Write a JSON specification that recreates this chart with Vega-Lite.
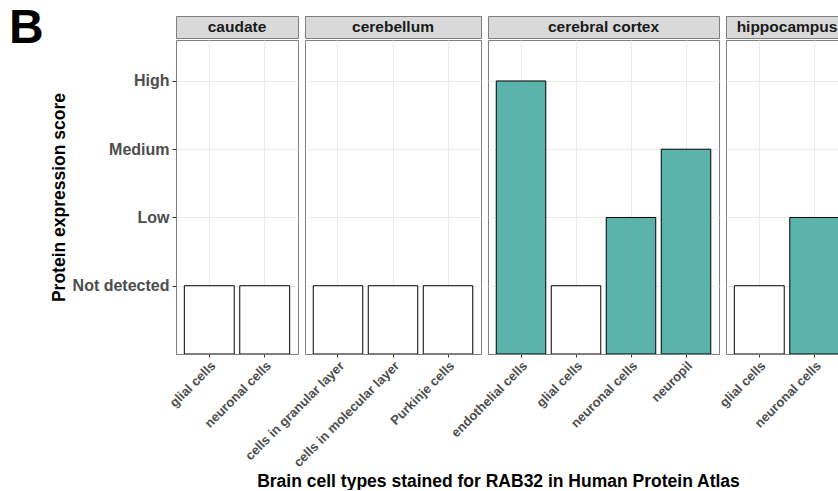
{
  "$schema": "https://vega.github.io/schema/vega-lite/v6.json",
  "background": "white",
  "padding": {"left": 8, "top": 4, "right": 0, "bottom": 0},
  "title": {"text": "B", "orient": "left", "anchor": "end", "angle": 0, "fontSize": 48, "fontWeight": "bold", "font": "Liberation Sans", "color": "black", "baseline": "top", "align": "left", "offset": 6, "dy": -11},
  "datasets": {
    "hpa": [
      {"region": "caudate", "cell": "glial cells", "score": 1, "detected": "no"},
      {"region": "caudate", "cell": "neuronal cells", "score": 1, "detected": "no"},
      {"region": "cerebellum", "cell": "cells in granular layer", "score": 1, "detected": "no"},
      {"region": "cerebellum", "cell": "cells in molecular layer", "score": 1, "detected": "no"},
      {"region": "cerebellum", "cell": "Purkinje cells", "score": 1, "detected": "no"},
      {"region": "cerebral cortex", "cell": "endothelial cells", "score": 4, "detected": "yes"},
      {"region": "cerebral cortex", "cell": "glial cells", "score": 1, "detected": "no"},
      {"region": "cerebral cortex", "cell": "neuronal cells", "score": 2, "detected": "yes"},
      {"region": "cerebral cortex", "cell": "neuropil", "score": 3, "detected": "yes"},
      {"region": "hippocampus", "cell": "glial cells", "score": 1, "detected": "no"},
      {"region": "hippocampus", "cell": "neuronal cells", "score": 2, "detected": "yes"}
    ]
  },
  "spacing": 0,
  "vconcat": [
    {
      "spacing": 7,
      "bounds": "flush",
      "hconcat": [
        {
          "width": 122, "height": 22,
          "data": {"name": "hpa"},
          "transform": [{"filter": "datum.region === 'caudate'"}, {"aggregate": [], "groupby": ["region"]}],
          "mark": {"type": "text", "fontWeight": "bold", "fontSize": 15.5, "color": "#1a1a1a", "font": "Liberation Sans"},
          "encoding": {"text": {"field": "region"}},
          "view": {"fill": "#d9d9d9", "stroke": "#7f7f7f"}
        },
        {
          "width": 176, "height": 22,
          "data": {"name": "hpa"},
          "transform": [{"filter": "datum.region === 'cerebellum'"}, {"aggregate": [], "groupby": ["region"]}],
          "mark": {"type": "text", "fontWeight": "bold", "fontSize": 15.5, "color": "#1a1a1a", "font": "Liberation Sans"},
          "encoding": {"text": {"field": "region"}},
          "view": {"fill": "#d9d9d9", "stroke": "#7f7f7f"}
        },
        {
          "width": 231, "height": 22,
          "data": {"name": "hpa"},
          "transform": [{"filter": "datum.region === 'cerebral cortex'"}, {"aggregate": [], "groupby": ["region"]}],
          "mark": {"type": "text", "fontWeight": "bold", "fontSize": 15.5, "color": "#1a1a1a", "font": "Liberation Sans"},
          "encoding": {"text": {"field": "region"}},
          "view": {"fill": "#d9d9d9", "stroke": "#7f7f7f"}
        },
        {
          "width": 112, "height": 22,
          "data": {"name": "hpa"},
          "transform": [{"filter": "datum.region === 'hippocampus'"}, {"aggregate": [], "groupby": ["region"]}],
          "mark": {"type": "text", "fontWeight": "bold", "fontSize": 15.5, "color": "#1a1a1a", "font": "Liberation Sans", "dx": 5},
          "encoding": {"text": {"field": "region"}},
          "view": {"fill": "#d9d9d9", "stroke": "#7f7f7f"}
        }
      ]
    },
    {
      "spacing": 7,
      "bounds": "flush",
      "hconcat": [
        {
          "width": 122, "height": 314,
          "data": {"name": "hpa"},
          "transform": [{"filter": "datum.region === 'caudate'"}],
          "mark": {"type": "bar", "stroke": "black", "strokeWidth": 1, "clip": true},
          "encoding": {
            "x": {"field": "cell", "type": "nominal", "sort": null, "scale": {"paddingInner": 0.1, "paddingOuter": 0.15}, "axis": {"title": null}},
            "y": {"field": "score", "type": "quantitative", "scale": {"domain": [0, 4.6], "nice": false, "zero": true},
                  "axis": {"values": [1, 2, 3, 4], "labelExpr": "datum.value == 1 ? 'Not detected' : datum.value == 2 ? 'Low' : datum.value == 3 ? 'Medium' : 'High'", "title": "Protein expression score", "titlePadding": 4, "labelFontSize": 16, "labelPadding": 3, "tickSize": 4}},
            "fill": {"field": "detected", "type": "nominal", "scale": {"domain": ["no", "yes"], "range": ["white", "#5ab4ac"]}, "legend": null}
          }
        },
        {
          "width": 176, "height": 314,
          "data": {"name": "hpa"},
          "transform": [{"filter": "datum.region === 'cerebellum'"}],
          "mark": {"type": "bar", "stroke": "black", "strokeWidth": 1, "clip": true},
          "encoding": {
            "x": {"field": "cell", "type": "nominal", "sort": null, "scale": {"paddingInner": 0.1, "paddingOuter": 0.15},
                  "axis": {"title": "Brain cell types stained for RAB32 in Human Protein Atlas", "titleX": 193, "titleY": 132, "titleAlign": "center", "titleBaseline": "alphabetic"}},
            "y": {"field": "score", "type": "quantitative", "scale": {"domain": [0, 4.6], "nice": false, "zero": true},
                  "axis": {"values": [1, 2, 3, 4], "labels": false, "ticks": false, "title": null}},
            "fill": {"field": "detected", "type": "nominal", "scale": {"domain": ["no", "yes"], "range": ["white", "#5ab4ac"]}, "legend": null}
          }
        },
        {
          "width": 231, "height": 314,
          "data": {"name": "hpa"},
          "transform": [{"filter": "datum.region === 'cerebral cortex'"}],
          "mark": {"type": "bar", "stroke": "black", "strokeWidth": 1, "clip": true},
          "encoding": {
            "x": {"field": "cell", "type": "nominal", "sort": null, "scale": {"paddingInner": 0.1, "paddingOuter": 0.15}, "axis": {"title": null}},
            "y": {"field": "score", "type": "quantitative", "scale": {"domain": [0, 4.6], "nice": false, "zero": true},
                  "axis": {"values": [1, 2, 3, 4], "labels": false, "ticks": false, "title": null}},
            "fill": {"field": "detected", "type": "nominal", "scale": {"domain": ["no", "yes"], "range": ["white", "#5ab4ac"]}, "legend": null}
          }
        },
        {
          "width": 112, "height": 314,
          "data": {"name": "hpa"},
          "transform": [{"filter": "datum.region === 'hippocampus'"}],
          "mark": {"type": "bar", "stroke": "black", "strokeWidth": 1, "clip": true},
          "encoding": {
            "x": {"field": "cell", "type": "nominal", "sort": null, "scale": {"paddingInner": 0.1, "paddingOuter": 0.15, "range": [0, 122]}, "axis": {"title": null}},
            "y": {"field": "score", "type": "quantitative", "scale": {"domain": [0, 4.6], "nice": false, "zero": true},
                  "axis": {"values": [1, 2, 3, 4], "labels": false, "ticks": false, "title": null}},
            "fill": {"field": "detected", "type": "nominal", "scale": {"domain": ["no", "yes"], "range": ["white", "#5ab4ac"]}, "legend": null}
          }
        }
      ]
    }
  ],
  "config": {
    "font": "Liberation Sans",
    "view": {"stroke": "#7f7f7f", "strokeWidth": 1},
    "axis": {"gridColor": "#ebebeb", "gridWidth": 1, "tickColor": "#333333", "tickSize": 3, "labelPadding": 2, "labelColor": "#4d4d4d", "labelFont": "Liberation Sans", "labelFontWeight": "bold", "labelFontSize": 13, "titleFont": "Liberation Sans", "titleFontWeight": "bold", "titleFontSize": 17.5, "titleColor": "black", "domain": false},
    "axisX": {"labelAngle": -45, "labelAlign": "right", "labelBaseline": "top", "grid": true}
  }
}
